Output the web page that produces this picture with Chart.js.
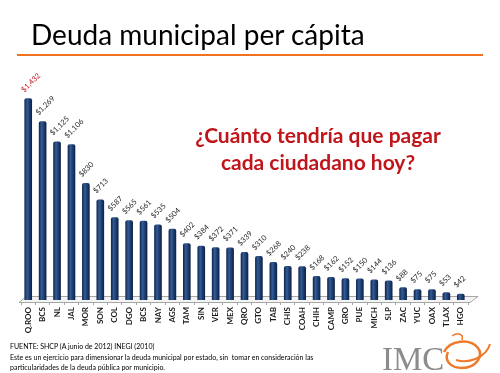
<!DOCTYPE html>
<html>
<head>
<meta charset="utf-8">
<script src="https://cdn.jsdelivr.net/npm/chart.js@4"></script>
<style>
  html, body { margin: 0; padding: 0; background: #fff; }
  #wrap { position: relative; width: 500px; height: 373px; overflow: hidden; font-family: Lato, "Open Sans", sans-serif; }
  #chart { position: absolute; left: 0; top: 0; }
  #title { position: absolute; left: 31px; top: 17px; font-size: 28px; color: #000; white-space: nowrap; }
  #rule { position: absolute; left: 17px; top: 54px; width: 466px; height: 2px; background: #ee7222; }
  #question { position: absolute; left: 168px; top: 121px; width: 300px; text-align: center; font-size: 21px; font-weight: bold; color: #c0161b; line-height: 27px; }
  .foot { position: absolute; left: 10px; font-size: 7px; color: #000; white-space: nowrap; }
  #logo { position: absolute; left: 378px; top: 330px; }
</style>
</head>
<body>
<div id="wrap">
  <canvas id="chart" width="500" height="373"></canvas>
  <div id="title">Deuda municipal per cápita</div>
  <div id="rule"></div>
  <div id="question">¿Cuánto tendría que pagar<br>cada ciudadano hoy?</div>
  <div class="foot" style="top:342px">FUENTE: SHCP (A junio de 2012) INEGI (2010)</div>
  <div class="foot" style="top:353px">Este es un ejercicio para dimensionar la deuda municipal por estado, sin&nbsp; tomar en consideración las</div>
  <div class="foot" style="top:363px">particularidades de la deuda pública por municipio.</div>
  <svg id="logo" width="120" height="43" viewBox="0 0 120 43">
    <text x="4" y="40" font-family="Liberation Serif" font-size="33" fill="#8c8c8c">IMC</text>
    <path d="M66 22 C 72 10, 92 8, 100 18 C 106 26, 98 38, 84 38 C 72 38, 66 30, 70 22" fill="none" stroke="#ee7a2a" stroke-width="2.5"/>
    <path d="M78 30 C 90 34, 108 28, 112 14" fill="none" stroke="#ee7a2a" stroke-width="2"/>
    <path d="M74 6 C 80 2, 86 4, 84 10" fill="none" stroke="#ee7a2a" stroke-width="1.5"/>
  </svg>
</div>
<script>
"use strict";

const states = ["Q.ROO", "BCS", "NL", "JAL", "MOR", "SON", "COL", "DGO", "BCS", "NAY", "AGS",
  "TAM", "SIN", "VER", "MEX", "QRO", "GTO", "TAB", "CHIS", "COAH", "CHIH", "CAMP", "GRO",
  "PUE", "MICH", "SLP", "ZAC", "YUC", "OAX", "TLAX", "HGO"];
const debtPerCapita = [1432, 1269, 1125, 1106, 830, 713, 587, 565, 561, 535, 504,
  402, 384, 372, 371, 339, 310, 268, 240, 238, 168, 162, 152,
  150, 144, 136, 88, 75, 75, 53, 42];
const yMax = 1700;

const fmt = (v) => "$" + v.toLocaleString("en-US");

// gradient per bar so each one looks like a cylinder
const barFill = (ctx) => {
  const chart = ctx.chart;
  const xs = chart.scales.x;
  const cx = xs ? xs.getPixelForValue(ctx.dataIndex) : NaN;
  if (!Number.isFinite(cx)) return "#1f3e6f";
  const g = chart.ctx.createLinearGradient(cx - 3.5, 0, cx + 3.5, 0);
  g.addColorStop(0, "#122850");
  g.addColorStop(0.35, "#335c96");
  g.addColorStop(0.65, "#1f4075");
  g.addColorStop(1, "#0f2446");
  return g;
};

// gray 3d floor under the bars
const floorPlugin = {
  id: "floor",
  beforeDatasetsDraw(chart) {
    const { ctx, chartArea } = chart;
    const b = chartArea.bottom;
    ctx.save();
    ctx.fillStyle = "#f4f4f4";
    ctx.strokeStyle = "#a6a6a6";
    ctx.lineWidth = 1;
    ctx.beginPath();
    ctx.moveTo(chartArea.left - 2, b + 2.5);
    ctx.lineTo(chartArea.right + 2, b + 2.5);
    ctx.lineTo(chartArea.right + 10, b - 3.5);
    ctx.lineTo(chartArea.left + 5, b - 3.5);
    ctx.closePath();
    ctx.fill();
    ctx.stroke();
    ctx.restore();
  },
};

// rotated value labels above each bar
const valueLabels = {
  id: "valueLabels",
  afterDatasetsDraw(chart) {
    const { ctx } = chart;
    const meta = chart.getDatasetMeta(0);
    ctx.save();
    ctx.font = "7.5px Lato";
    meta.data.forEach((bar, i) => {
      ctx.save();
      ctx.translate(bar.x - 4, bar.y - 6);
      ctx.rotate(-Math.PI / 4);
      ctx.fillStyle = i === 0 ? "#c0161b" : "#262626";
      ctx.textAlign = "left";
      ctx.textBaseline = "alphabetic";
      ctx.fillText(fmt(debtPerCapita[i]), 0, 0);
      ctx.restore();
    });
    ctx.restore();
  },
};

new Chart(document.getElementById("chart"), {
  type: "bar",
  data: {
    labels: states,
    datasets: [
      {
        label: "Deuda municipal per cápita",
        data: debtPerCapita,
        backgroundColor: barFill,
        barThickness: 7,
        borderRadius: { topLeft: 2, topRight: 2 },
        borderSkipped: "bottom",
      },
    ],
  },
  options: {
    responsive: false,
    animation: false,
    events: [],
    layout: { padding: { left: 21, right: 32, top: 61, bottom: 0 } },
    plugins: { legend: { display: false }, tooltip: { enabled: false } },
    scales: {
      y: { display: false, min: 0, max: yMax },
      x: {
        afterFit(scale) { scale.height = 73; },
        border: { display: false },
        grid: { drawOnChartArea: false, drawTicks: true, tickLength: 5, color: "#a6a6a6", offset: true },
        ticks: {
          minRotation: 90,
          maxRotation: 90,
          autoSkip: false,
          padding: 2,
          color: "#1a1a1a",
          font: { family: "Lato", size: 8, weight: "bold" },
        },
      },
    },
  },
  plugins: [floorPlugin, valueLabels],
});
</script>
</body>
</html>
